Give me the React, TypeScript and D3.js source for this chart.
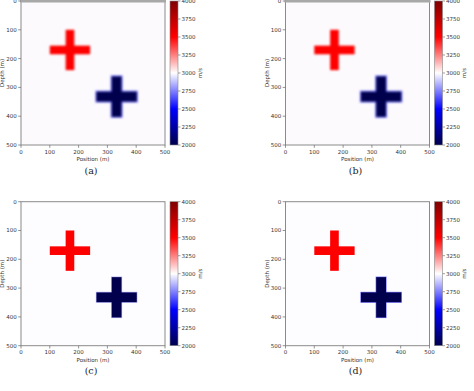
import React from "react";
import * as d3 from "d3";

// panel captions and which panels show a smoothed (inverted) model
const captions = ["(a)", "(b)", "(c)", "(d)"];
const smoothed = [true, true, false, false];

const xTicks = [0, 100, 200, 300, 400, 500];
const yTicks = [0, 100, 200, 300, 400, 500];
const cbarTicks = [2000, 2250, 2500, 2750, 3000, 3250, 3500, 3750, 4000];

// velocity anomalies (cross shaped), in metres and m/s
const crossX = [170, 332];
const crossY = [170, 332];
const crossArm = [70, 70];
const crossHalfWidth = [15, 17];
const crossVel = [3500, 2000];
const backgroundVel = 3000;

const seismicStops = [2000, 2500, 3000, 3500, 4000];
const seismicColors = ["#00004d", "#0000ff", "#ffffff", "#ff0000", "#800000"];

const W = 474;
const H = 391;
const plotW = 144;
const plotH = 144;
const panelOrigin = [
  [21, 1],
  [285.5, 1],
  [21, 201.7],
  [285.5, 201.7],
];

const color = d3.scaleLinear<string>().domain(seismicStops).range(seismicColors).clamp(true);

const Panel = ({ idx }: { idx: number }) => {
  const [ox, oy] = panelOrigin[idx];
  const x = d3.scaleLinear().domain([0, 500]).range([0, plotW]);
  const y = d3.scaleLinear().domain([0, 500]).range([0, plotH]);
  const cb = d3.scaleLinear().domain([2000, 4000]).range([plotH, 0]);
  const cbX = plotW + 5;
  const cbW = 8;
  const font = "DejaVu Sans, sans-serif";
  const fs = 5.5;
  const blur = smoothed[idx];

  const crossRects = crossX.flatMap((cx, i) => {
    const cy = crossY[i];
    const a = crossArm[i];
    const w = crossHalfWidth[i];
    return [
      { x0: cx - a, x1: cx + a, y0: cy - w, y1: cy + w, v: crossVel[i] },
      { x0: cx - w, x1: cx + w, y0: cy - a, y1: cy + a, v: crossVel[i] },
    ];
  });

  return (
    <g transform={`translate(${ox},${oy})`}>
      <defs>
        <clipPath id={`clip${idx}`}>
          <rect x={0} y={0} width={plotW} height={plotH} />
        </clipPath>
      </defs>
      <g clipPath={`url(#clip${idx})`}>
        <rect x={0} y={0} width={plotW} height={plotH} fill={blur ? "#fcfafd" : "#fdfcfe"} />
        {blur && (
          <g filter="url(#halo)">
            {crossRects
              .filter((r) => r.v < backgroundVel)
              .map((r, i) => (
                <rect
                  key={`h${i}`}
                  x={x(r.x0) - 1.2}
                  y={y(r.y0) - 1.2}
                  width={x(r.x1) - x(r.x0) + 2.4}
                  height={y(r.y1) - y(r.y0) + 2.4}
                  fill="#7070ff"
                  opacity={0.7}
                />
              ))}
          </g>
        )}
        {!blur &&
          crossRects
            .filter((r) => r.v < backgroundVel)
            .map((r, i) => (
              <rect
                key={`o${i}`}
                x={x(r.x0) - 0.6}
                y={y(r.y0) - 0.6}
                width={x(r.x1) - x(r.x0) + 1.2}
                height={y(r.y1) - y(r.y0) + 1.2}
                fill="#6a6aff"
                opacity={idx === 3 ? 0.9 : 0.5}
              />
            ))}
        <g filter={blur ? "url(#soft)" : undefined}>
          {crossRects.map((r, i) => (
            <rect
              key={i}
              x={x(r.x0)}
              y={y(r.y0)}
              width={x(r.x1) - x(r.x0)}
              height={y(r.y1) - y(r.y0)}
              fill={color(r.v)}
            />
          ))}
        </g>
      </g>
      <rect x={0} y={0} width={plotW} height={plotH} fill="none" stroke="#8a8a8a" strokeWidth={1} />
      {idx < 2 && <rect x={-1} y={-1} width={plotW + 2} height={2.5} fill="#a8a8a8" />}

      {xTicks.map((t) => (
        <g key={`x${t}`} transform={`translate(${x(t)},${plotH})`}>
          <line y2={2.8} stroke="#777" strokeWidth={0.8} />
          <text y={8.6} textAnchor="middle" fontSize={fs} fontFamily={font} fill="#333">
            {t}
          </text>
        </g>
      ))}
      {yTicks.map((t) => (
        <g key={`y${t}`} transform={`translate(0,${y(t)})`}>
          <line x2={-2.8} stroke="#777" strokeWidth={0.8} />
          <text x={-4.2} dy="0.35em" textAnchor="end" fontSize={fs} fontFamily={font} fill="#333">
            {t}
          </text>
        </g>
      ))}
      <text x={plotW / 2} y={plotH + 16.2} textAnchor="middle" fontSize={fs} fontFamily={font} fill="#333">
        Position (m)
      </text>
      <text
        transform={`translate(${-18.5},${plotH / 2}) rotate(-90)`}
        textAnchor="middle"
        dy="0.35em"
        fontSize={fs}
        fontFamily={font}
        fill="#333"
      >
        Depth (m)
      </text>
      <text
        x={plotW / 2 - 2}
        y={plotH + 28.5}
        textAnchor="middle"
        fontSize={9.5}
        fontFamily="DejaVu Serif, Liberation Serif, serif"
        fill="#222"
      >
        {captions[idx]}
      </text>

      <rect x={cbX} y={0} width={cbW} height={plotH} fill="url(#seismic)" />
      <rect x={cbX} y={0} width={cbW} height={plotH} fill="none" stroke="#888" strokeWidth={0.6} />
      {cbarTicks.map((t) => (
        <g key={`c${t}`} transform={`translate(${cbX + cbW},${cb(t)})`}>
          <line x2={2.5} stroke="#777" strokeWidth={0.7} />
          <text x={3.5} dy="0.35em" fontSize={fs} fontFamily={font} fill="#333">
            {t}
          </text>
        </g>
      ))}
      <text
        transform={`translate(${cbX + 30},${plotH / 2}) rotate(-90)`}
        textAnchor="middle"
        dy="0.35em"
        fontSize={fs}
        fontFamily={font}
        fill="#333"
      >
        m/s
      </text>
    </g>
  );
};

const App = () => {
  const gradStops = d3.range(0, 1.0001, 0.05);
  return (
    <svg
      width={W}
      height={H}
      style={{ position: "absolute", left: 0, top: 0, background: "#fff" }}
    >
      <defs>
        <linearGradient id="seismic" x1="0" y1="1" x2="0" y2="0">
          {gradStops.map((s) => (
            <stop key={s} offset={s} stopColor={color(2000 + s * 2000)} />
          ))}
        </linearGradient>
        <filter id="soft" x="-10%" y="-10%" width="120%" height="120%">
          <feGaussianBlur stdDeviation={0.9} />
        </filter>
        <filter id="halo" x="-10%" y="-10%" width="120%" height="120%">
          <feGaussianBlur stdDeviation={1.2} />
        </filter>
      </defs>
      <rect width={W} height={H} fill="#fff" />
      {captions.map((c, i) => (
        <Panel key={c} idx={i} />
      ))}
    </svg>
  );
};

export default App;
